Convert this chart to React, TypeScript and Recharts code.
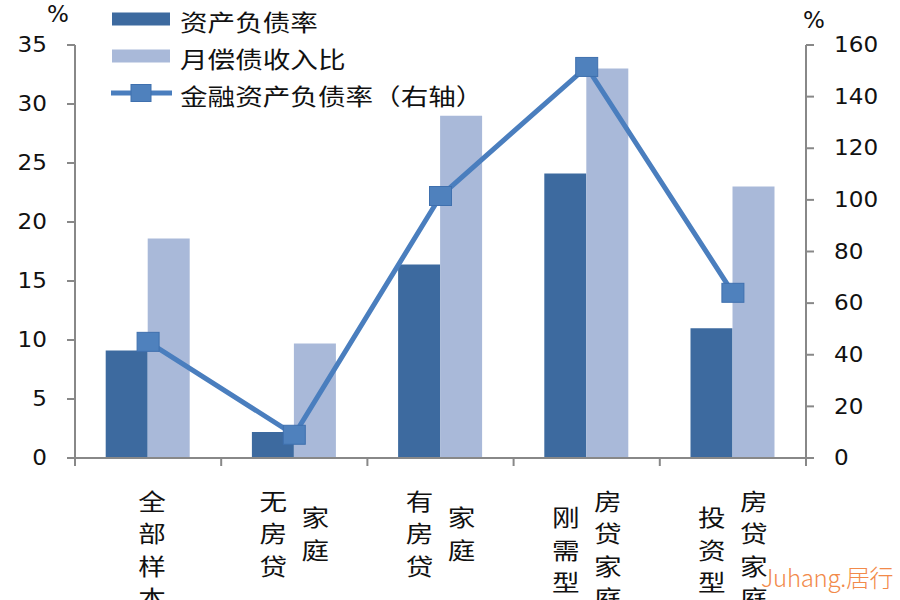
import { ComposedChart, Bar, Line, XAxis, YAxis, Legend } from "recharts";

const categories = ["全部样本", "无房贷家庭", "有房贷家庭", "刚需型房贷家庭", "投资型房贷家庭"];
// how each category label wraps into vertical columns
const labelColumns = [["全部样本"], ["无房贷", "家庭"], ["有房贷", "家庭"], ["刚需型", "房贷家庭"], ["投资型", "房贷家庭"]];
const debtToAsset = [9.1, 2.2, 16.4, 24.1, 11.0];
const debtToIncome = [18.6, 9.7, 29.0, 33.0, 23.0];
const financialDebtToAsset = [45, 9, 101.5, 151.5, 64];
const leftTicks = [0, 5, 10, 15, 20, 25, 30, 35];
const rightTicks = [0, 20, 40, 60, 80, 100, 120, 140, 160];
const seriesNames = ["资产负债率", "月偿债收入比", "金融资产负债率（右轴）"];

const data = categories.map((name, i) => ({
  name,
  debtToAsset: debtToAsset[i],
  debtToIncome: debtToIncome[i],
  financialDebtToAsset: financialDebtToAsset[i],
}));

const DARK = "#3d6a9f";
const LIGHT = "#a9b9d9";
const LINE = "#4a7ebe";
const AXIS = "#888888";
const CJK = "'Noto Sans CJK SC', sans-serif";
const NUM = "'DejaVu Sans', sans-serif";

const NumTick = (props: any) => {
  const { x, y, payload, textAnchor } = props;
  return (
    <text
      transform={`translate(${x},${y}) scale(1.1,1)`}
      textAnchor={textAnchor}
      dominantBaseline="central"
      fontFamily={NUM}
      fontSize={21}
      fill="#111"
    >
      {payload.value}
    </text>
  );
};

// category label written top-to-bottom in columns, plus tick marks on the category boundaries
const CatTick = (props: any) => {
  const { x, y, payload, index } = props;
  const half = payload.offset ?? 0;
  const cols = labelColumns[categories.indexOf(payload.value)] || [payload.value];
  const maxLen = Math.max(...cols.map((c: string) => c.length));
  const pitch = 32.5;
  return (
    <g>
      <line x1={x - half} x2={x - half} y1={y} y2={y + 8} stroke={AXIS} strokeWidth={2} />
      {index === categories.length - 1 && (
        <line x1={x + half} x2={x + half} y1={y} y2={y + 8} stroke={AXIS} strokeWidth={2} />
      )}
      {cols.map((col: string, ci: number) => {
        const dx = (ci - (cols.length - 1) / 2) * 42 + (cols.length === 1 ? 4 : 0);
        const dy = ((maxLen - col.length) * pitch) / 2;
        return col.split("").map((ch, k) => (
          <text
            key={`${ci}-${k}`}
            transform={`translate(${x + dx},${y + 42 + dy + k * pitch}) scale(1.2,1)`}
            textAnchor="middle"
            dominantBaseline="central"
            fontFamily={CJK}
            fontSize={23}
            fill="#111"
          >
            {ch}
          </text>
        ));
      })}
    </g>
  );
};

const SquareDot = (props: any) => {
  const { cx, cy } = props;
  if (cx == null || cy == null) return <g />;
  return <rect x={cx - 11} y={cy - 9.5} width={22} height={19} fill="#4f81bd" stroke="#3f70ae" strokeWidth={1} />;
};

const renderLegend = (props: any) => {
  const items = [...(props.payload || [])].sort(
    (a: any, b: any) => seriesNames.indexOf(a.value) - seriesNames.indexOf(b.value)
  );
  return (
    <svg width={500} height={112}>
      {items.map((item: any, i: number) => {
        const cy = 19 + i * 37;
        const isLine = i === 2;
        return (
          <g key={item.value}>
            {isLine ? (
              <g>
                <line x1={111} x2={172} y1={cy} y2={cy} stroke={LINE} strokeWidth={5} />
                <rect x={131} y={cy - 8.5} width={20} height={17} fill="#4f81bd" stroke="#3f70ae" />
              </g>
            ) : (
              <rect x={112} y={cy - 6.5} width={58} height={13} fill={item.color} />
            )}
            <text
              transform={`translate(180,${cy + 2}) scale(1.2,1)`}
              dominantBaseline="central"
              fontFamily={CJK}
              fontSize={23}
              fill="#111"
            >
              {item.value}
            </text>
          </g>
        );
      })}
    </svg>
  );
};

export default function App() {
  return (
    <div style={{ position: "absolute", left: 0, top: 0, width: 900, height: 600, background: "#fff", overflow: "hidden" }}>
      <ComposedChart
        width={900}
        height={600}
        data={data}
        margin={{ top: 45, right: 0, bottom: 0, left: 0 }}
        barCategoryGap="21%"
        barGap={0}
      >
        <XAxis
          xAxisId="cat"
          dataKey="name"
          height={142}
          interval={0}
          tickSize={0}
          tickMargin={0}
          tickLine={false}
          axisLine={{ stroke: AXIS, strokeWidth: 2 }}
          tick={<CatTick />}
        />
        <YAxis
          yAxisId="left"
          width={75}
          domain={[0, 35]}
          ticks={leftTicks}
          interval={0}
          tickSize={8}
          tickMargin={20}
          axisLine={{ stroke: AXIS, strokeWidth: 2 }}
          tickLine={{ stroke: AXIS, strokeWidth: 2 }}
          tick={<NumTick />}
        />
        <YAxis
          yAxisId="right"
          orientation="right"
          width={94}
          domain={[0, 160]}
          ticks={rightTicks}
          interval={0}
          tickSize={8}
          tickMargin={20}
          axisLine={{ stroke: AXIS, strokeWidth: 2 }}
          tickLine={{ stroke: AXIS, strokeWidth: 2 }}
          tick={<NumTick />}
        />
        <Legend
          layout="vertical"
          align="center"
          verticalAlign="middle"
          wrapperStyle={{ left: 0, top: 0, width: 500, height: 112 }}
          content={renderLegend}
        />
        <Bar xAxisId="cat" yAxisId="left" dataKey="debtToAsset" name={seriesNames[0]} fill={DARK} isAnimationActive={false} />
        <Bar xAxisId="cat" yAxisId="left" dataKey="debtToIncome" name={seriesNames[1]} fill={LIGHT} isAnimationActive={false} />
        <Line
          xAxisId="cat"
          yAxisId="right"
          dataKey="financialDebtToAsset"
          name={seriesNames[2]}
          stroke={LINE}
          strokeWidth={5}
          dot={<SquareDot />}
          activeDot={false}
          isAnimationActive={false}
        />
      </ComposedChart>
      <div style={{ position: "absolute", left: 47, top: 1, fontFamily: NUM, fontSize: 23, color: "#111" }}>%</div>
      <div style={{ position: "absolute", left: 803, top: 7, fontFamily: NUM, fontSize: 23, color: "#111" }}>%</div>
      <div
        style={{
          position: "absolute",
          left: 761,
          top: 559,
          whiteSpace: "nowrap",
          fontFamily: "'Noto Sans CJK SC', sans-serif",
          fontWeight: 300,
          fontSize: 24,
          color: "#f28a4a",
          letterSpacing: -0.3,
        }}
      >
        Juhang.居行
      </div>
    </div>
  );
}
